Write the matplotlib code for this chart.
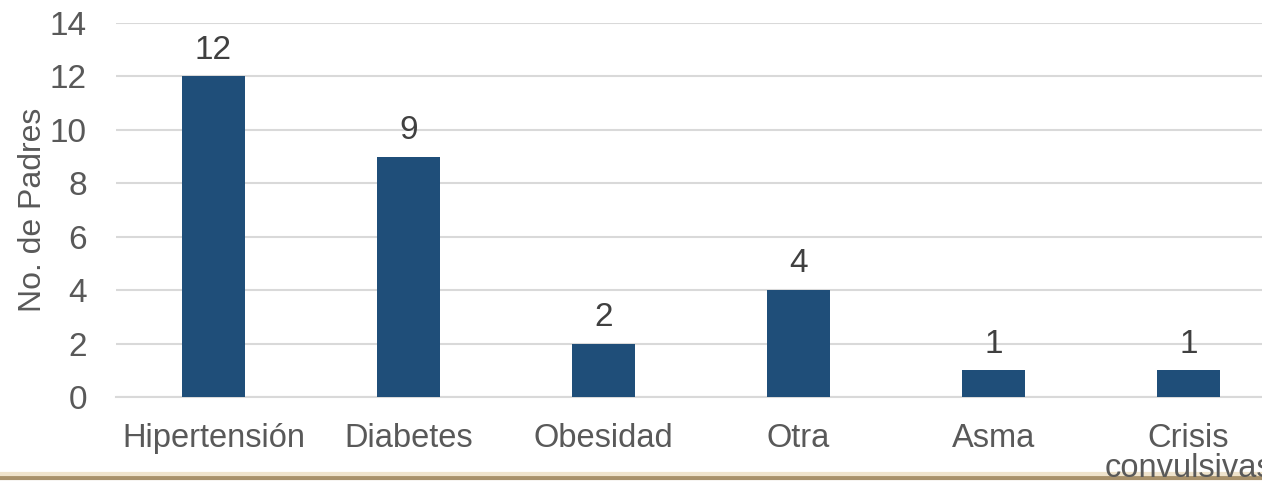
import matplotlib.pyplot as plt

categorias = ["Hipertensión", "Diabetes", "Obesidad", "Otra", "Asma", "Crisis\nconvulsivas"]
padres = [12, 9, 2, 4, 1, 1]
yticks = [0, 2, 4, 6, 8, 10, 12, 14]

plt.rcParams['font.family'] = ['Liberation Sans', 'DejaVu Sans']
GRIS = "#595959"
AZUL = "#1F4E79"

fig = plt.figure(figsize=(12.62, 4.84), dpi=100)
ax = fig.add_axes([116/1262, 1-397/484, 1170/1262, 374/484])

x = list(range(len(categorias)))
bars = ax.bar(x, padres, width=0.32, color=AZUL, zorder=3)
for xi, v in zip(x, padres):
    ax.text(xi, v + 0.4, str(v), ha="center", va="bottom", fontsize=24, color="#404040")

ax.set_xlim(-0.5, 5.5)
ax.set_ylim(0, 14)
ax.set_yticks(yticks)
ax.set_xticks(x)
ax.set_xticklabels(categorias, fontsize=23.5, color=GRIS, linespacing=0.95)
ax.tick_params(axis="y", labelsize=24, labelcolor=GRIS, length=0, pad=21)
ax.tick_params(axis="x", length=0, pad=19)
ax.grid(axis="y", color="#D9D9D9", linewidth=1.5, zorder=0)
for s in ["top", "right", "left"]:
    ax.spines[s].set_visible(False)
ax.spines["bottom"].set_color("#D9D9D9")
ax.spines["bottom"].set_linewidth(1.5)
ax.set_ylabel("No. de Padres", fontsize=23, color=GRIS, labelpad=1)
ax.patch.set_alpha(0)

# linea dorada inferior
fig.add_artist(plt.Line2D([0, 1], [1-478/484, 1-478/484], color="#A8916B", linewidth=3, zorder=0))
fig.add_artist(plt.Line2D([0, 1], [1-474/484, 1-474/484], color="#EFE3CC", linewidth=3, zorder=0))

fig.savefig("out.png", dpi=100)
